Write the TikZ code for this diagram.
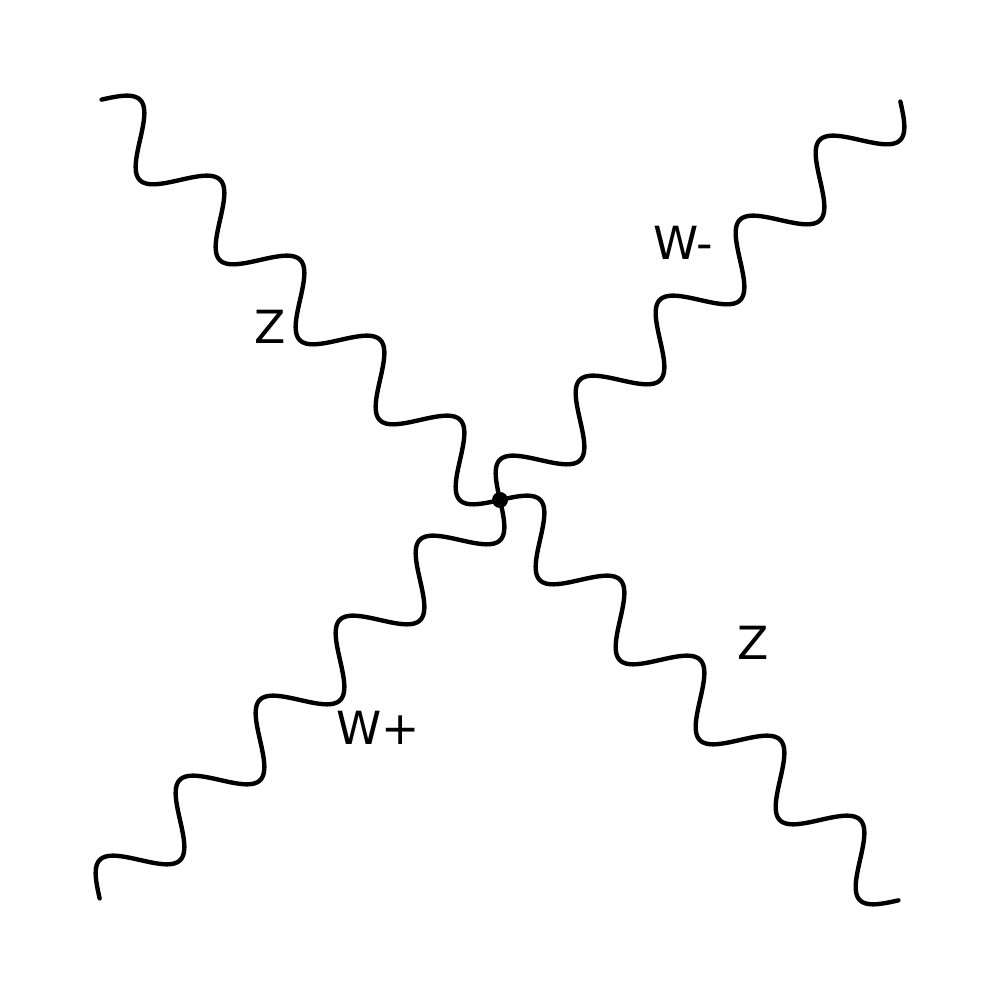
\documentclass[tikz,border=0pt]{standalone}
\usepackage{fontspec}
\setmainfont{DejaVu Sans}
\usetikzlibrary{calc}
\newcommand{\bosonAmp}{0.285cm}
\newcommand{\bosonWaves}{5}
\tikzset{
  feynfig/.style={
    every node/.append style={font=\fontsize{13}{15}\selectfont},
  },
  % Welliger Propagator als Sinus zwischen zwei Punkten
  boson/.style={
    line width=1.25pt, line cap=round, line join=round,
    to path={
      let \p1=(\tikztostart), \p2=(\tikztotarget),
          \n1={veclen(\x2-\x1,\y2-\y1)} in
      plot[domain=0:1, samples=400, variable=\t]
        ({\x1+\t*(\x2-\x1)-\bosonAmp*sin(360*\bosonWaves*\t)*(\y2-\y1)/\n1},
         {\y1+\t*(\y2-\y1)+\bosonAmp*sin(360*\bosonWaves*\t)*(\x2-\x1)/\n1})
    },
  },
  vertex/.style={circle, fill=black, inner sep=0pt, minimum size=1.6mm},
  bosonlabel/.style={inner sep=1pt},
}
\begin{document}
\begin{tikzpicture}[feynfig]
  \useasboundingbox (0,0) rectangle (10,10);
  \node[vertex] (v) at (5,5) {};
  \coordinate (zin) at (1,9);
  \coordinate (wmin) at (9,9);
  \coordinate (wpin) at (1,1);
  \coordinate (zout) at (9,1);
  \draw[boson] (v) to (zin);
  \draw[boson] (v) to (wmin);
  \draw[boson] (v) to (wpin);
  \draw[boson] (v) to (zout);
  \node[bosonlabel] (lzin) at (2.70,6.73) {Z};
  \node[bosonlabel] (lwmin) at (6.83,7.57) {W-};
  \node[bosonlabel] (lzout) at (7.53,3.57) {Z};
  \node[bosonlabel] (lwpin) at (3.78,2.72) {W+};
\end{tikzpicture}
\end{document}
